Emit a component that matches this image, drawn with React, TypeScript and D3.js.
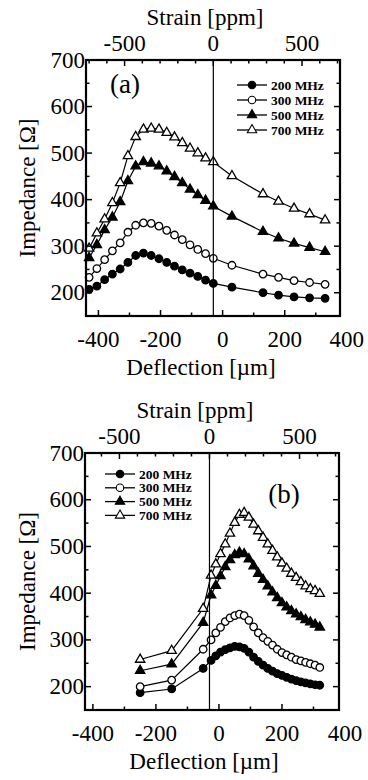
import * as d3 from 'd3';
import React from 'react';

// impedance vs deflection, two bending setups (a) and (b)
const freqs = ['200 MHz', '300 MHz', '500 MHz', '700 MHz'];
const markerShape = ['circle', 'circle', 'triangle', 'triangle'];
const markerFilled = [true, false, true, false];

// panel (a)
const deflA = [-430, -405, -380, -355, -330, -305, -280, -255, -230, -205, -180, -155, -130, -105, -80, -55, -30, 30, 130, 180, 230, 280, 330];
const a200 = [207, 214, 228, 240, 251, 265, 280, 285, 280, 273, 265, 257, 249, 242, 235, 227, 220, 212, 200, 195, 191, 189, 188];
const a300 = [233, 252, 271, 290, 307, 330, 345, 350, 349, 343, 334, 324, 314, 303, 293, 284, 274, 259, 240, 233, 226, 222, 218];
const a500 = [275, 303, 335, 362, 395, 440, 472, 481, 478, 472, 461, 449, 436, 422, 410, 398, 386, 364, 331, 317, 306, 297, 288];
const a700 = [295, 328, 358, 393, 436, 494, 535, 551, 553, 551, 544, 534, 522, 510, 500, 489, 481, 451, 412, 396, 381, 369, 356];

// panel (b)
const deflB = [-250, -150, -50, -25, -10, 5, 20, 35, 50, 65, 80, 95, 110, 125, 140, 155, 170, 185, 200, 215, 230, 245, 260, 275, 290, 305, 320];
const b200 = [187, 195, 239, 256, 266, 274, 279, 283, 286, 285, 282, 274, 263, 254, 246, 239, 233, 228, 224, 220, 216, 213, 210, 208, 206, 204, 203];
const b300 = [200, 214, 280, 300, 315, 327, 339, 347, 352, 355, 352, 342, 328, 315, 305, 297, 289, 280, 273, 268, 263, 258, 255, 252, 249, 246, 241];
const b500 = [234, 248, 337, 396, 416, 437, 456, 471, 482, 487, 484, 473, 458, 442, 429, 415, 402, 390, 379, 370, 362, 355, 349, 343, 338, 333, 327];
const b700 = [258, 277, 367, 438, 462, 484, 505, 528, 551, 568, 572, 562, 547, 533, 519, 505, 491, 477, 464, 453, 442, 433, 424, 415, 409, 405, 399];

const deflTicks = [-400, -200, 0, 200, 400];
const strainTicks = [-500, 0, 500];
const impTicks = [200, 300, 400, 500, 600, 700];

const strainZero = -30; // deflection [um] where strain is 0
const ppmPerUm = 1.75;
const FONT = '"Liberation Serif", "Times New Roman", serif';
const FS = 23;

const panels = [
    {
        left: 86, right: 340, top: 60, bottom: 316, xDom: [-440, 378],
        defl: deflA, values: [a200, a300, a500, a700],
        label: '(a)', labelX: 125, labelY: 93,
        legendX: 237, legendY: 85, legendStep: 15,
        strainTitleX: 205, deflTitleX: 201,
    },
    {
        left: 85, right: 339, top: 453, bottom: 710, xDom: [-425, 381],
        defl: deflB, values: [b200, b300, b500, b700],
        label: '(b)', labelX: 284, labelY: 503,
        legendX: 105, legendY: 474, legendStep: 13.8,
        strainTitleX: 195, deflTitleX: 204,
    },
];

function marker(i: number) {
    const circ = markerShape[i] === 'circle';
    return d3.symbol().type(circ ? d3.symbolCircle : d3.symbolTriangle).size(circ ? 44 : 38)() as string;
}

function Panel({ p }: { p: any }) {
    const x = d3.scaleLinear().domain(p.xDom).range([p.left, p.right]);
    const y = d3.scaleLinear().domain([150, 700]).range([p.bottom, p.top]);
    const s = d3.scaleLinear()
        .domain(p.xDom.map((d: number) => (d - strainZero) * ppmPerUm))
        .range([p.left, p.right]);
    const line = d3.line<number>()
        .x((_, j) => x(p.defl[j]))
        .y((v) => y(v));

    const yMinor = d3.range(200, 700, 50);
    const xMinor = d3.range(-400, 401, 100);
    const sDom = s.domain();
    const sMinor = d3.range(-700, 701, 100).filter((t) => t > sDom[0] && t < sDom[1]);
    const majLen = 6, minLen = 3.5;

    return (
        <g>
            {/* series */}
            {p.values.map((vals: number[], i: number) => (
                <g key={i}>
                    <path d={line(vals) as string} fill="none" stroke="#000" strokeWidth={1.2} />
                    {vals.map((v, j) => (
                        <path key={j} d={marker(i)}
                            transform={`translate(${x(p.defl[j])},${y(v)})`}
                            fill={markerFilled[i] ? '#000' : '#fff'}
                            stroke="#000" strokeWidth={1.3} />
                    ))}
                </g>
            ))}

            {/* strain-zero line */}
            <line x1={x(strainZero)} x2={x(strainZero)} y1={p.top} y2={p.bottom} stroke="#000" strokeWidth={1.2} />

            {/* frame */}
            <rect x={p.left} y={p.top} width={p.right - p.left} height={p.bottom - p.top}
                fill="none" stroke="#000" strokeWidth={2.2} />

            {/* y ticks left/right */}
            {yMinor.map((t) => {
                const len = t % 100 === 0 ? majLen : minLen;
                return (
                    <g key={'y' + t}>
                        <line x1={p.left} x2={p.left + len} y1={y(t)} y2={y(t)} stroke="#000" strokeWidth={1.5} />
                        <line x1={p.right} x2={p.right - len} y1={y(t)} y2={y(t)} stroke="#000" strokeWidth={1.5} />
                    </g>
                );
            })}
            {impTicks.map((t) => (
                <text key={'yl' + t} x={p.left - 1} y={y(t) + 7.5} textAnchor="end" fontSize={FS} fontFamily={FONT}>{t}</text>
            ))}

            {/* bottom deflection ticks */}
            {xMinor.filter((t) => x(t) > p.left && x(t) < p.right).map((t) => (
                <line key={'x' + t} x1={x(t)} x2={x(t)} y1={p.bottom} y2={p.bottom - (t % 200 === 0 ? majLen : minLen)}
                    stroke="#000" strokeWidth={1.5} />
            ))}
            {deflTicks.map((t) => (
                <text key={'xl' + t} x={x(t)} y={p.bottom + 31} textAnchor="middle" fontSize={FS} fontFamily={FONT}>{t}</text>
            ))}

            {/* top strain ticks */}
            {sMinor.map((t) => (
                <line key={'s' + t} x1={s(t)} x2={s(t)} y1={p.top} y2={p.top + (t % 500 === 0 ? majLen : minLen)}
                    stroke="#000" strokeWidth={1.5} />
            ))}
            {strainTicks.map((t) => (
                <text key={'sl' + t} x={s(t)} y={p.top - 9} textAnchor="middle" fontSize={FS} fontFamily={FONT}>{t}</text>
            ))}

            {/* titles */}
            <text x={p.strainTitleX} y={p.top - 35} textAnchor="middle" fontSize={FS} fontFamily={FONT}>Strain [ppm]</text>
            <text x={p.deflTitleX} y={p.bottom + 59} textAnchor="middle" fontSize={FS} fontFamily={FONT}>Deflection [µm]</text>
            <text transform={`translate(35,${(p.top + p.bottom) / 2}) rotate(-90)`} textAnchor="middle"
                fontSize={FS} fontFamily={FONT}>Impedance [Ω]</text>

            <text x={p.labelX} y={p.labelY} textAnchor="middle" fontSize={27} fontFamily={FONT}>{p.label}</text>

            {/* legend */}
            {freqs.map((f, i) => {
                const ly = p.legendY + i * p.legendStep;
                return (
                    <g key={f}>
                        <line x1={p.legendX} x2={p.legendX + 30} y1={ly} y2={ly} stroke="#000" strokeWidth={1.3} />
                        <path d={marker(i)} transform={`translate(${p.legendX + 15},${ly})`}
                            fill={markerFilled[i] ? '#000' : '#fff'} stroke="#000" strokeWidth={1.1} />
                        <text x={p.legendX + 34} y={ly + 4.5} fontSize={13.5} fontWeight="bold" fontFamily={FONT}>{f}</text>
                    </g>
                );
            })}
        </g>
    );
}

export default function App() {
    return (
        <svg width={368} height={780} style={{ position: 'absolute', left: 0, top: 0, background: '#fff' }}>
            {panels.map((p, k) => <Panel key={k} p={p} />)}
        </svg>
    );
}
